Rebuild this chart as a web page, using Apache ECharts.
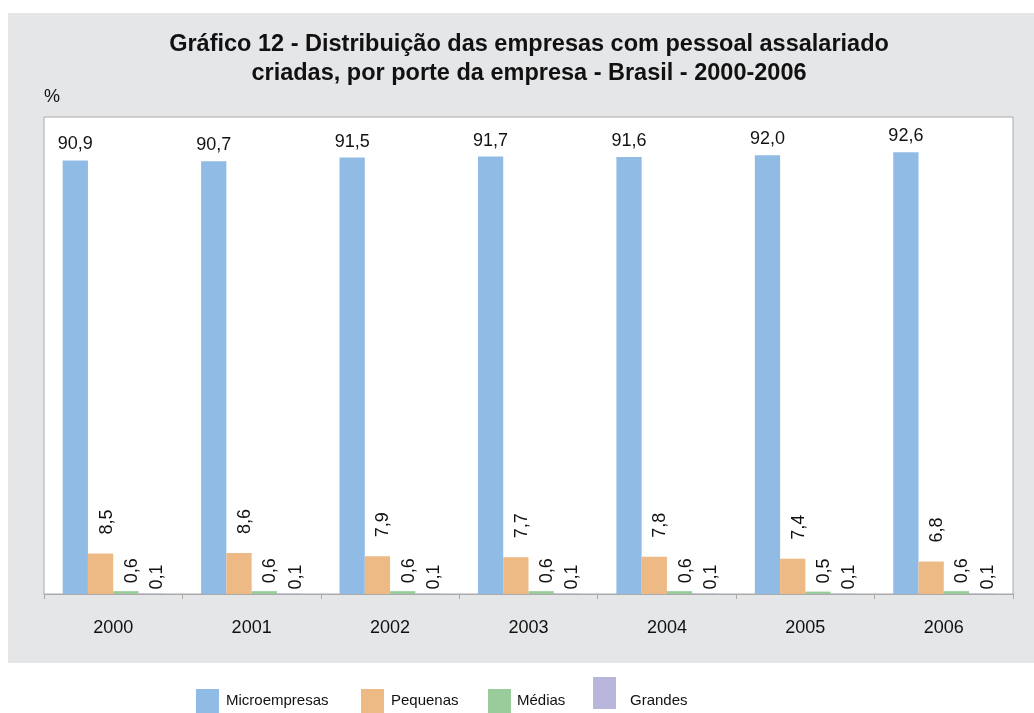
<!DOCTYPE html>
<html>
<head>
<meta charset="utf-8">
<script src="https://cdn.jsdelivr.net/npm/echarts@6/dist/echarts.min.js"></script>
<style>
  html, body { margin: 0; padding: 0; background: #fff; }
  #chart { width: 1034px; height: 713px; }
</style>
</head>
<body>
<div id="chart"></div>
<script>
// anos
const categories = ["2000", "2001", "2002", "2003", "2004", "2005", "2006"];
// % por porte
const microempresas = [90.9, 90.7, 91.5, 91.7, 91.6, 92.0, 92.6];
const pequenas = [8.5, 8.6, 7.9, 7.7, 7.8, 7.4, 6.8];
const medias = [0.6, 0.6, 0.6, 0.6, 0.6, 0.5, 0.6];
const grandes = [0.1, 0.1, 0.1, 0.1, 0.1, 0.1, 0.1];

const font = "'Liberation Sans', Arial, sans-serif";
const fmt = (p) => p.value.toFixed(1).replace(".", ",");
const colors = ["#8fbbe5", "#edb985", "#9acb9b", "#b9b6db"];

const chart = echarts.init(document.getElementById("chart"));

// rotated = [distance, deslocamento para a direita] dos rótulos verticais
function barSeries(name, data, color, rotated) {
  const label = rotated
    ? {
        show: true,
        position: "top",
        rotate: 90,
        align: "left",
        verticalAlign: "middle",
        distance: rotated[0],
        offset: [0, rotated[1]], // no referencial girado: y = para a direita
        color: "#111",
        fontFamily: font,
        fontSize: 18,
        formatter: fmt,
      }
    : {
        show: true,
        position: "top",
        distance: 7,
        color: "#111",
        fontFamily: font,
        fontSize: 18,
        formatter: fmt,
      };
  return {
    name: name,
    type: "bar",
    data: data,
    barGap: "0%",
    barCategoryGap: "27%",
    itemStyle: { color: color },
    label: label,
  };
}

function legendAt(name, left, gap, hidden) {
  return {
    data: [name],
    left: left,
    top: 689,
    padding: 0,
    itemWidth: 23,
    itemHeight: 24,
    itemGap: 0,
    icon: "rect",
    itemStyle: hidden ? { opacity: 0 } : {},
    textStyle: {
      fontFamily: font,
      fontSize: 15,
      color: "#111",
      padding: [12, 0, 0, gap],
    },
  };
}

const option = {
  animation: false,
  graphic: [
    {
      type: "rect",
      z: -10,
      shape: { x: 8, y: 13, width: 1026, height: 650 },
      style: { fill: "#e5e6e8" },
    },
    {
      type: "text",
      left: 44,
      top: 88,
      style: { text: "%", font: "18px " + font, fill: "#111" },
    },
    {
      // swatch de Grandes (mais alto no original)
      type: "rect",
      shape: { x: 593, y: 677, width: 23, height: 32 },
      style: { fill: colors[3] },
    },
  ],
  title: {
    text: "Gráfico 12 - Distribuição das empresas com pessoal assalariado\ncriadas, por porte da empresa - Brasil - 2000-2006",
    left: 529,
    top: 30,
    textAlign: "center",
    padding: 0,
    textStyle: {
      fontFamily: font,
      fontWeight: "bold",
      fontSize: 23.5,
      lineHeight: 29,
      color: "#111",
    },
  },
  legend: [
    legendAt("Microempresas", 196, 2),
    legendAt("Pequenas", 361, 2),
    legendAt("Médias", 488, 1),
    legendAt("Grandes", 593, 9, true),
  ],
  grid: {
    left: 44,
    top: 117,
    right: 21,
    bottom: 119,
    show: true,
    backgroundColor: "#fff",
    borderColor: "#aaaaaa",
    borderWidth: 1,
  },
  xAxis: {
    type: "category",
    data: categories,
    axisLine: { lineStyle: { color: "#aaaaaa" } },
    axisTick: { show: true, length: 5, lineStyle: { color: "#aaaaaa" } },
    axisLabel: {
      margin: 25,
      color: "#111",
      fontFamily: font,
      fontSize: 18,
    },
  },
  yAxis: {
    type: "value",
    min: 0,
    max: 100,
    show: false,
  },
  series: [
    barSeries("Microempresas", microempresas, colors[0], null),
    barSeries("Pequenas", pequenas, colors[1], [19, 6]),
    barSeries("Médias", medias, colors[2], [8, 6]),
    barSeries("Grandes", grandes, colors[3], [4, 6]),
  ],
};

chart.setOption(option);
</script>
</body>
</html>
